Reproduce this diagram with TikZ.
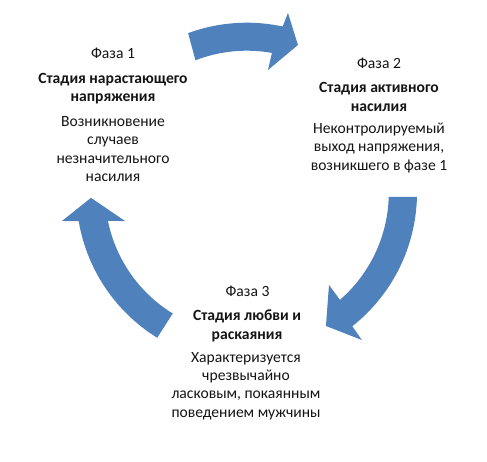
\documentclass[tikz,border=0pt]{standalone}
\usepackage{fontspec}
\setmainfont{Carlito}
\definecolor{arrblue}{HTML}{4F81BD}
\definecolor{txt}{HTML}{141414}
\begin{document}
\begin{tikzpicture}[x=1pt,y=1pt,
  arr/.style={fill=arrblue,draw=none},
  lbl/.style={inner sep=0pt,font=\fontsize{15.6}{18.2}\selectfont,text=txt},
  head/.style={lbl,align=center,font=\fontsize{15.6}{18.6}\selectfont\bfseries},
  desc/.style={lbl,align=center}]
\useasboundingbox (0,0) rectangle (487,462);
\coordinate (C) at (246.8,269.3);
\begin{scope}[shift={(C)}]
% top arrow (phase 1 -> phase 2)
\fill[arr] (110.2:170) arc[start angle=110.2,end angle=77.8,radius=170]
  -- (77.1:184.4) -- (70.9:156.3) -- (80.2:124.5) -- (79.8:142)
  arc[start angle=79.8,end angle=111.2,radius=142] -- cycle;
% right arrow (phase 2 -> phase 3)
\fill[arr] (-1.4:170.2) arc[start angle=-1.4,end angle=-51.7,radius=170.2]
  -- (-52:187) -- (-59.3:155) -- (-48.3:123.6) -- (-49:142)
  arc[start angle=-49,end angle=-1.7,radius=142] -- cycle;
% left arrow (phase 3 -> phase 1)
\fill[arr] (238.3:170.5) arc[start angle=238.3,end angle=189.6,radius=170.5]
  -- (188.7:187) -- (181.9:155.9) -- (193.1:125) -- (191.5:141.7)
  arc[start angle=191.5,end angle=238.5,radius=141.7] -- cycle;
\end{scope}
% phase 1
\node[lbl,anchor=base] (p1l) at (113,403) {Фаза 1};
\node[head] (p1h) at (113,373.5) {Стадия нарастающего\\напряжения};
\node[desc] (p1d) at (113,313) {Возникновение\\случаев\\незначительного\\насилия};
% phase 2
\node[lbl,anchor=base] (p2l) at (379,393) {Фаза 2};
\node[head] (p2h) at (379,365) {Стадия активного\\насилия};
\node[desc] (p2d) at (379,314) {Неконтролируемый\\выход напряжения,\\возникшего в фазе 1};
% phase 3
\node[lbl,anchor=base] (p3l) at (247.5,165) {Фаза 3};
\node[head] (p3h) at (247,136) {Стадия любви и\\раскаяния};
\node[desc] (p3d) at (246,76) {Характеризуется\\чрезвычайно\\ласковым, покаянным\\поведением мужчины};
\end{tikzpicture}
\end{document}
